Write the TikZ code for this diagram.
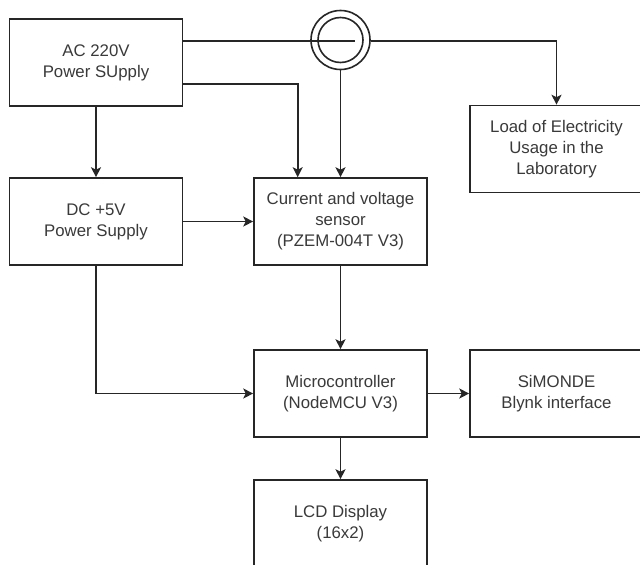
\documentclass[tikz,border=0pt]{standalone}
\usepackage{fontspec}
\setmainfont{Liberation Sans}
\usetikzlibrary{arrows.meta}
\definecolor{ln}{HTML}{262626}
\definecolor{tx}{HTML}{3A3A3A}
\begin{document}
\begin{tikzpicture}[x=1pt,y=-1pt,
  blk/.style={draw=ln, line width=1.6pt, minimum width=173pt, minimum height=87pt,
    inner sep=0pt, align=center, text=tx, font=\fontsize{16.8}{21}\selectfont},
  arr/.style={draw=ln, line width=1.6pt, -{Stealth[length=10pt,width=10pt,inset=2.5pt]}},
  wire/.style={draw=ln, line width=1.6pt}]
\clip (0,0) rectangle (640,565);
\fill[white] (0,0) rectangle (640,565);

\node[blk] (AC) at (96,62.7) {AC 220V\\Power SUpply};
\node[blk] (DC) at (96,221.5) {DC +5V\\Power Supply};
\node[blk] (S) at (340.5,221.5) {Current and voltage\\sensor\\(PZEM-004T V3)};
\node[blk] (L) at (556.5,149) {Load of Electricity\\Usage in the\\Laboratory};
\node[blk] (M) at (340.5,393.5) {Microcontroller\\(NodeMCU V3)};
\node[blk] (B) at (556.5,393.5) {SiMONDE\\Blynk interface};
\node[blk] (LCD) at (340.5,523.5) {LCD Display\\(16x2)};

\node[circle, draw=ln, line width=1.6pt, minimum size=59pt, inner sep=0pt] (CTo) at (340.5,40) {};
\node[circle, draw=ln, line width=1.6pt, minimum size=45pt, inner sep=0pt] (CTi) at (340.5,40) {};
\coordinate (CTend) at (355,41);

\draw[wire] ([yshift=21.7pt]AC.east) -- (CTend);
\draw[arr] ([yshift=-1pt]CTo.east) -| (L.north);
\draw[arr] (CTo.south) -- (S.north);
\draw[arr] ([yshift=-21.3pt]AC.east) -| ([xshift=-42.8pt]S.north);
\draw[arr] (AC.south) -- (DC.north);
\draw[arr] (DC.east) -- (S.west);
\draw[arr] (DC.south) |- (M.west);
\draw[arr] (S.south) -- (M.north);
\draw[arr] (M.east) -- (B.west);
\draw[arr] (M.south) -- (LCD.north);
\end{tikzpicture}
\end{document}
